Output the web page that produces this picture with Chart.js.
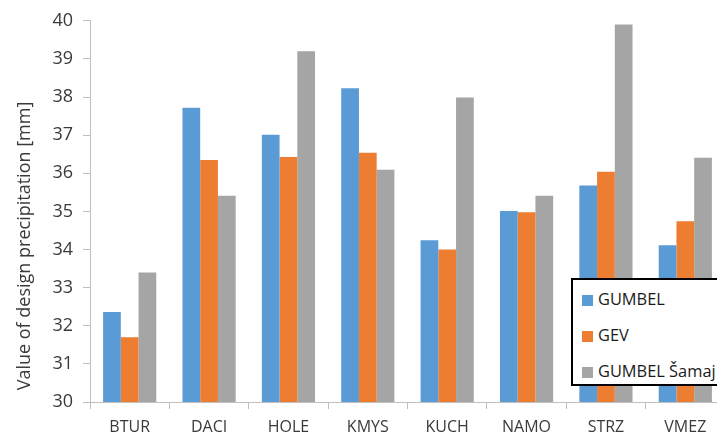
<!DOCTYPE html>
<html>
<head>
<meta charset="utf-8">
<script src="https://cdn.jsdelivr.net/npm/chart.js@4"></script>
<style>
  html, body { margin: 0; padding: 0; background: #fff; overflow: hidden; }
  #wrap { position: relative; width: 725px; height: 441px; }
  #legend {
    position: absolute; left: 571px; top: 278px; width: 160px; height: 104px;
    border: 2px solid #000; background: #fff; font-family: "Open Sans", sans-serif;
    font-size: 16.4px; color: #1a1a1a;
  }
  #legend .item { position: absolute; left: 9px; height: 22px; line-height: 22px; white-space: nowrap; }
  #legend .sw { display: inline-block; width: 11px; height: 11px; margin-right: 5px; vertical-align: -1px; }
</style>
</head>
<body>
<div id="wrap">
  <canvas id="c" width="725" height="441"></canvas>
  <div id="legend"></div>
</div>
<script>
const categories = ["BTUR", "DACI", "HOLE", "KMYS", "KUCH", "NAMO", "STRZ", "VMEZ"];
const seriesNames = ["GUMBEL", "GEV", "GUMBEL Šamaj"];
const gumbel = [32.36, 37.72, 37.01, 38.23, 34.24, 35.01, 35.68, 34.11];
const gev = [31.70, 36.35, 36.43, 36.54, 34.00, 34.98, 36.04, 34.74];
const gumbelSamaj = [33.40, 35.41, 39.20, 36.09, 37.99, 35.41, 39.90, 36.41];
const colors = ["#5B9BD5", "#ED7D31", "#A5A5A5"];
const yTitle = "Value of design precipitation [mm]";
const yMin = 30, yMax = 40, yStep = 1;

const font = "'Open Sans', sans-serif";
const textColor = "#3a3a3a";
const axisColor = "#BFBFBF";

const yTitlePlugin = {
  id: 'yTitlePlugin',
  afterDraw(chart) {
    const ctx = chart.ctx;
    const area = chart.chartArea;
    ctx.save();
    ctx.translate(25, area.bottom - 156);
    ctx.rotate(-Math.PI / 2);
    ctx.font = "18px " + font;
    ctx.fillStyle = textColor;
    ctx.textAlign = 'center';
    ctx.textBaseline = 'middle';
    ctx.fillText(yTitle, 0, 0);
    ctx.restore();
  }
};

const datasets = [gumbel, gev, gumbelSamaj].map((d, i) => ({
  label: seriesNames[i],
  data: d,
  backgroundColor: colors[i],
  borderWidth: 0,
  categoryPercentage: 0.67,
  barPercentage: 1.0
}));

const chart = new Chart(document.getElementById('c'), {
  type: 'bar',
  data: { labels: categories, datasets },
  plugins: [yTitlePlugin],
  options: {
    responsive: false,
    animation: false,
    devicePixelRatio: 1,
    layout: { padding: { top: 18, left: 0, right: 0, bottom: 0 } },
    plugins: { legend: { display: false }, tooltip: { enabled: false } },
    scales: {
      x: {
        grid: { display: true, drawOnChartArea: false, offset: true, color: axisColor, tickLength: 7, tickColor: axisColor },
        border: { color: axisColor, width: 1 },
        ticks: { color: textColor, font: { family: font, size: 16 }, padding: 9, maxRotation: 0 },
        afterFit(scale) { scale.height = 39; }
      },
      y: {
        min: yMin, max: yMax,
        grid: { display: true, drawOnChartArea: false, color: axisColor, tickLength: 7, tickColor: axisColor },
        border: { color: axisColor, width: 1 },
        ticks: { stepSize: yStep, color: textColor, font: { family: font, size: 18 }, padding: 10 },
        afterFit(scale) { scale.width = 90; }
      }
    }
  }
});

const legend = document.getElementById('legend');
seriesNames.forEach((name, i) => {
  const item = document.createElement('div');
  item.className = 'item';
  item.style.top = (8 + i * 36) + 'px';
  const sw = document.createElement('span');
  sw.className = 'sw';
  sw.style.background = colors[i];
  item.appendChild(sw);
  item.appendChild(document.createTextNode(name));
  legend.appendChild(item);
});
</script>
</body>
</html>
